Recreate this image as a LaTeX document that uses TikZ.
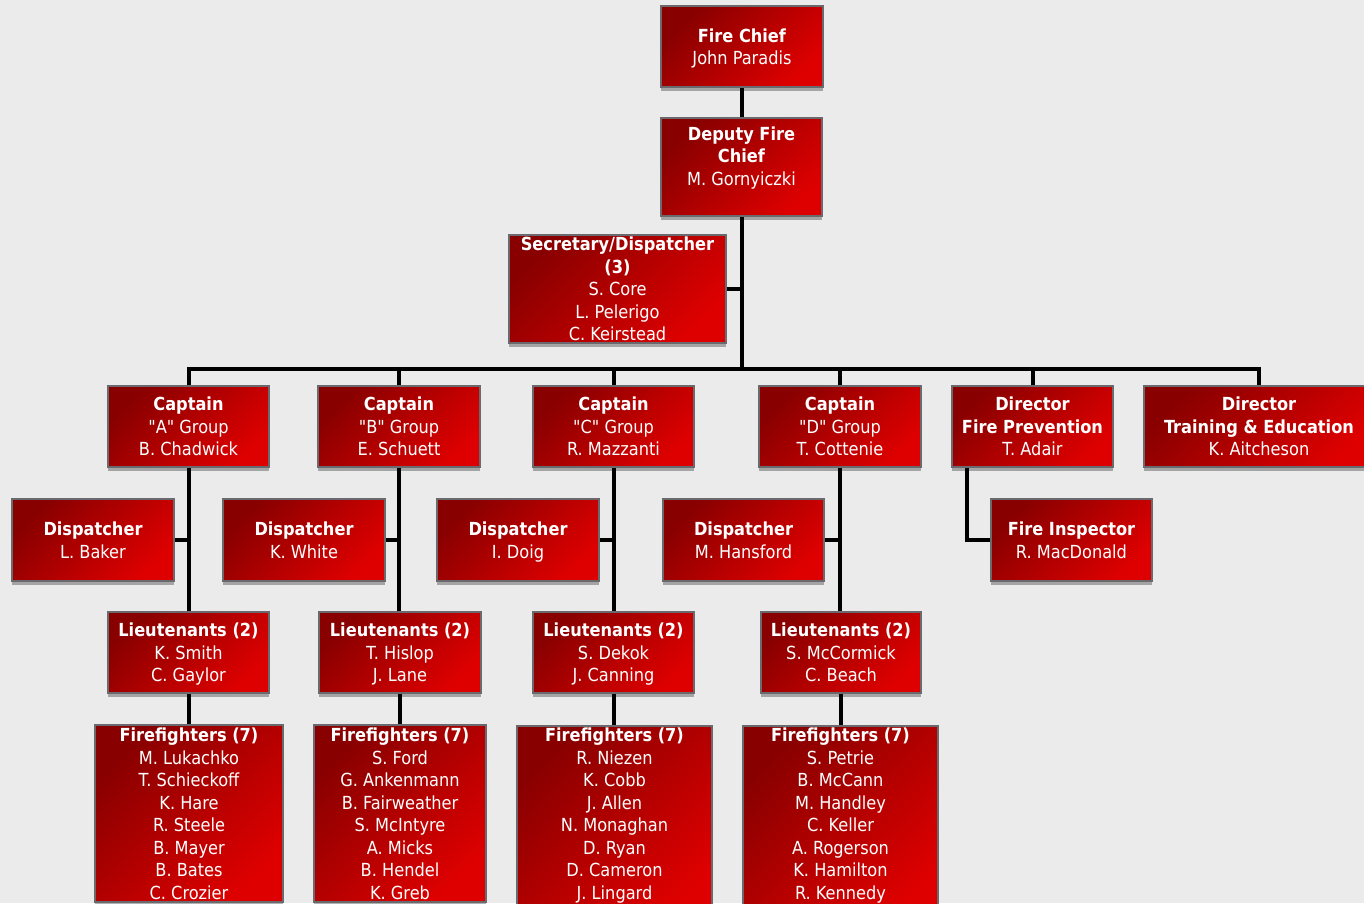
\documentclass[tikz,border=0pt]{standalone}
\usepackage{fontspec}
\setmainfont{DejaVu Sans Condensed}[Ligatures=TeXOff]
\usetikzlibrary{shadows}
\definecolor{bg}{RGB}{235,235,235}
\definecolor{rdark}{RGB}{136,0,0}
\definecolor{rbright}{RGB}{222,0,0}
\definecolor{edgegray}{RGB}{105,105,110}
\newcommand{\dq}{\char34\relax}
\tikzset{
  box/.style={draw=edgegray, line width=1.5pt, top color=rdark, bottom color=rbright,
    shading angle=45, text=white, align=center,
    font=\fontsize{18}{22.5}\selectfont, inner sep=0pt, text depth=-1pt,
    drop shadow={shadow xshift=0pt, shadow yshift=-4pt, opacity=0.3, fill=black}},
  link/.style={line width=4pt, black, line join=miter}
}
\begin{document}
\begin{tikzpicture}[x=1pt,y=-1pt]
\useasboundingbox (0,0) rectangle (1364,903);
\fill[bg] (0,0) rectangle (1364,903);

% top
\node[box, minimum width=162pt, minimum height=81pt] (chief) at (742,46.5)
  {\textbf{Fire Chief}\\John Paradis};
\node[box, minimum width=161pt, minimum height=98pt] (deputy) at (741.5,167)
  {\textbf{Deputy Fire}\\\textbf{Chief}\\M. Gornyiczki\\\strut};
\node[box, minimum width=217pt, minimum height=108pt] (sec) at (617.5,289)
  {\textbf{Secretary/Dispatcher}\\\textbf{(3)}\\S. Core\\L. Pelerigo\\C. Keirstead};
\coordinate (bus) at (741,369);

% captains / directors
\node[box, minimum width=161pt, minimum height=81pt] (capA) at (188.5,426.5)
  {\textbf{Captain}\\\dq A\dq{} Group\\B. Chadwick};
\node[box, minimum width=162pt, minimum height=81pt] (capB) at (399,426.5)
  {\textbf{Captain}\\\dq B\dq{} Group\\E. Schuett};
\node[box, minimum width=161pt, minimum height=81pt] (capC) at (613.5,426.5)
  {\textbf{Captain}\\\dq C\dq{} Group\\R. Mazzanti};
\node[box, minimum width=162pt, minimum height=81pt] (capD) at (840,426.5)
  {\textbf{Captain}\\\dq D\dq{} Group\\T. Cottenie};
\node[box, minimum width=161pt, minimum height=81pt] (dirFP) at (1032.5,426.5)
  {\textbf{Director}\\\textbf{Fire Prevention}\\T. Adair};
\node[box, minimum width=230pt, minimum height=81pt] (dirTE) at (1259,426.5)
  {\textbf{Director}\\\textbf{Training \& Education}\\K. Aitcheson};

% dispatchers
\node[box, minimum width=162pt, minimum height=82pt] (dispA) at (93,540)
  {\textbf{Dispatcher}\\L. Baker};
\node[box, minimum width=162pt, minimum height=82pt] (dispB) at (304,540)
  {\textbf{Dispatcher}\\K. White};
\node[box, minimum width=162pt, minimum height=82pt] (dispC) at (518,540)
  {\textbf{Dispatcher}\\I. Doig};
\node[box, minimum width=161pt, minimum height=82pt] (dispD) at (743.5,540)
  {\textbf{Dispatcher}\\M. Hansford};
\node[box, minimum width=161pt, minimum height=82pt] (insp) at (1071.5,540)
  {\textbf{Fire Inspector}\\R. MacDonald};

% lieutenants
\node[box, minimum width=161pt, minimum height=81pt] (ltA) at (188.5,652.5)
  {\textbf{Lieutenants (2)}\\K. Smith\\C. Gaylor};
\node[box, minimum width=162pt, minimum height=81pt] (ltB) at (400,652.5)
  {\textbf{Lieutenants (2)}\\T. Hislop\\J. Lane};
\node[box, minimum width=161pt, minimum height=81pt] (ltC) at (613.5,652.5)
  {\textbf{Lieutenants (2)}\\S. Dekok\\J. Canning};
\node[box, minimum width=160pt, minimum height=81pt] (ltD) at (841,652.5)
  {\textbf{Lieutenants (2)}\\S. McCormick\\C. Beach};

% firefighters
\node[box, minimum width=188pt, minimum height=177pt] (ffA) at (189,813.5)
  {\textbf{Firefighters (7)}\\M. Lukachko\\T. Schieckoff\\K. Hare\\R. Steele\\B. Mayer\\B. Bates\\C. Crozier};
\node[box, minimum width=172pt, minimum height=177pt] (ffB) at (400,813.5)
  {\textbf{Firefighters (7)}\\S. Ford\\G. Ankenmann\\B. Fairweather\\S. McIntyre\\A. Micks\\B. Hendel\\K. Greb};
\node[box, minimum width=195pt, minimum height=198pt] (ffC) at (614.5,825)
  {\textbf{Firefighters (7)}\\R. Niezen\\K. Cobb\\J. Allen\\N. Monaghan\\D. Ryan\\D. Cameron\\J. Lingard\\\strut};
\node[box, minimum width=195pt, minimum height=198pt] (ffD) at (840.5,825)
  {\textbf{Firefighters (7)}\\S. Petrie\\B. McCann\\M. Handley\\C. Keller\\A. Rogerson\\K. Hamilton\\R. Kennedy\\\strut};

% connectors
\draw[link] (chief.south) -- (chief.south |- deputy.north);
\draw[link] (deputy.south) -- (deputy.south |- bus);
\draw[link] (sec.east) -- (sec.east -| deputy.south);
\draw[link] (capA.north) |- (dirTE.north |- bus) -- (dirTE.north);
\draw[link] (capB.north) -- (capB.north |- bus);
\draw[link] (capC.north) -- (capC.north |- bus);
\draw[link] (capD.north) -- (capD.north |- bus);
\draw[link] (dirFP.north) -- (dirFP.north |- bus);

\draw[link] (capA.south) -- (capA.south |- ltA.north);
\draw[link] (capB.south) -- (capB.south |- ltB.north);
\draw[link] (capC.south) -- (capC.south |- ltC.north);
\draw[link] (capD.south) -- (capD.south |- ltD.north);
\draw[link] (ltA.south) -- (ltA.south |- ffA.north);
\draw[link] (ltB.south) -- (ltB.south |- ffB.north);
\draw[link] (ltC.south) -- (ltC.south |- ffC.north);
\draw[link] (ltD.south) -- (ltD.south |- ffD.north);

\draw[link] (dispA.east) -- (dispA.east -| capA.south);
\draw[link] (dispB.east) -- (dispB.east -| capB.south);
\draw[link] (dispC.east) -- (dispC.east -| capC.south);
\draw[link] (dispD.east) -- (dispD.east -| capD.south);
\draw[link] ([xshift=16pt]dirFP.south west) |- (insp.west);
\end{tikzpicture}
\end{document}
